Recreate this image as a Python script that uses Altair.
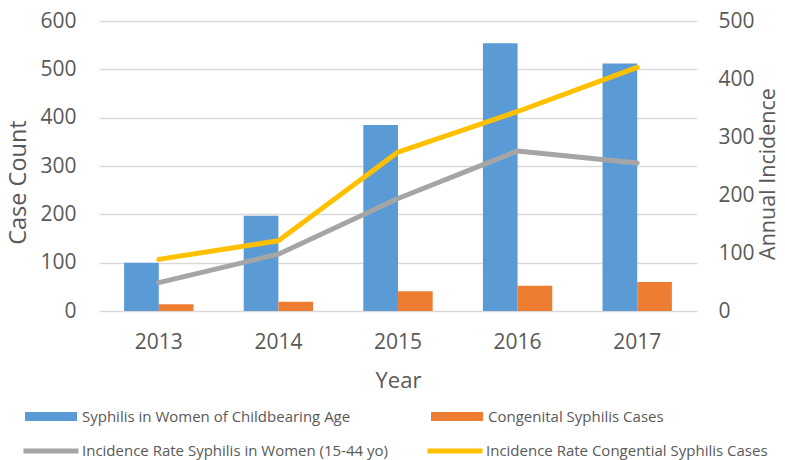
import altair as alt
import pandas as pd

years = ["2013", "2014", "2015", "2016", "2017"]
women_cases = [100, 197, 385, 554, 512]
congenital_cases = [14, 19, 41, 52, 60]
rate_women = [49, 98, 194, 276, 255]
rate_congenital = [89, 121, 274, 344, 420]

bar_series = ["Syphilis in Women of Childbearing Age", "Congenital Syphilis Cases"]
line_series = ["Incidence Rate Syphilis in Women (15-44 yo)",
               "Incidence Rate Congential Syphilis Cases"]
bar_colors = ["#5B9BD5", "#ED7D31"]
line_colors = ["#A5A5A5", "#FFC000"]

left_ticks = [0, 100, 200, 300, 400, 500, 600]
right_ticks = [0, 100, 200, 300, 400, 500]

bars_df = pd.DataFrame({
    "Year": years * 2,
    "Series": [bar_series[0]] * len(years) + [bar_series[1]] * len(years),
    "Cases": women_cases + congenital_cases,
})
lines_df = pd.DataFrame({
    "Year": years * 2,
    "Rate Series": [line_series[0]] * len(years) + [line_series[1]] * len(years),
    "Rate": rate_women + rate_congenital,
})

FONT = "Open Sans"
TXT = "#595959"

x_enc = alt.X(
    "Year:N",
    sort=years,
    scale=alt.Scale(paddingInner=0.42, paddingOuter=0.21),
    axis=alt.Axis(
        title="Year", labelAngle=0, domain=False, ticks=False,
        labelFont=FONT, labelFontSize=21, labelColor=TXT, labelPadding=20,
        titleFont=FONT, titleFontSize=22, titleColor=TXT, titleFontWeight="normal",
        titleY=69, titleBaseline="middle",
    ),
)

bars = alt.Chart(bars_df).mark_bar().encode(
    x=x_enc,
    xOffset=alt.XOffset("Series:N", sort=bar_series, scale=alt.Scale(paddingInner=0, paddingOuter=0)),
    y=alt.Y(
        "Cases:Q",
        scale=alt.Scale(domain=[0, 600], nice=False),
        axis=alt.Axis(
            orient="left", values=left_ticks, title="Case Count",
            grid=True, gridColor="#D9D9D9", gridWidth=1.5,
            domain=False, ticks=False,
            labelFont=FONT, labelFontSize=21, labelColor=TXT, labelPadding=23,
            titleFont=FONT, titleFontSize=23.5, titleColor=TXT, titleFontWeight="normal",
            titleX=-81, titleY=161, titleAngle=270, titleAlign="center", titleBaseline="middle",
        ),
    ),
    color=alt.Color(
        "Series:N",
        scale=alt.Scale(domain=bar_series, range=bar_colors),
        legend=alt.Legend(
            title=None, orient="none", legendX=-74, legendY=385.5,
            direction="horizontal", columns=2, columnPadding=80,
            symbolType="M-1,-0.17H1V0.17H-1Z", symbolSize=2704, symbolStrokeWidth=0,
            labelFont=FONT, labelFontSize=15, labelColor=TXT, labelOffset=5,
            labelLimit=500, clipHeight=20, padding=0,
        ),
    ),
)

lines = alt.Chart(lines_df).mark_line(strokeWidth=5, strokeCap="round", strokeJoin="round").encode(
    x=x_enc,
    y=alt.Y(
        "Rate:Q",
        scale=alt.Scale(domain=[0, 500], nice=False),
        axis=alt.Axis(
            orient="right", values=right_ticks, title="Annual Incidence",
            grid=False, domain=False, ticks=False,
            labelFont=FONT, labelFontSize=21, labelColor=TXT, labelPadding=21,
            titleFont=FONT, titleFontSize=21.5, titleColor=TXT, titleFontWeight="normal",
            titleX=71, titleY=152.5, titleAngle=270, titleAlign="center", titleBaseline="middle",
        ),
    ),
    stroke=alt.Stroke(
        "Rate Series:N",
        sort=line_series,
        scale=alt.Scale(domain=line_series, range=line_colors),
        legend=alt.Legend(
            title=None, orient="none", legendX=-78, legendY=420,
            direction="horizontal", columns=2, columnPadding=36,
            symbolType="stroke", symbolSize=3025, symbolStrokeWidth=5,
            labelFont=FONT, labelFontSize=15, labelColor=TXT, labelOffset=1,
            labelLimit=500, clipHeight=20, padding=0,
        ),
    ),
)

chart = alt.layer(bars, lines).resolve_scale(
    y="independent"
).properties(
    width=598, height=290,
    autosize=alt.AutoSizeParams(type="none"),
    padding={"left": 91, "top": 13, "right": 80, "bottom": 150},
    background="white",
).configure_view(strokeWidth=0)

chart.save("out.html", embed_options={"renderer": "svg", "actions": False})
